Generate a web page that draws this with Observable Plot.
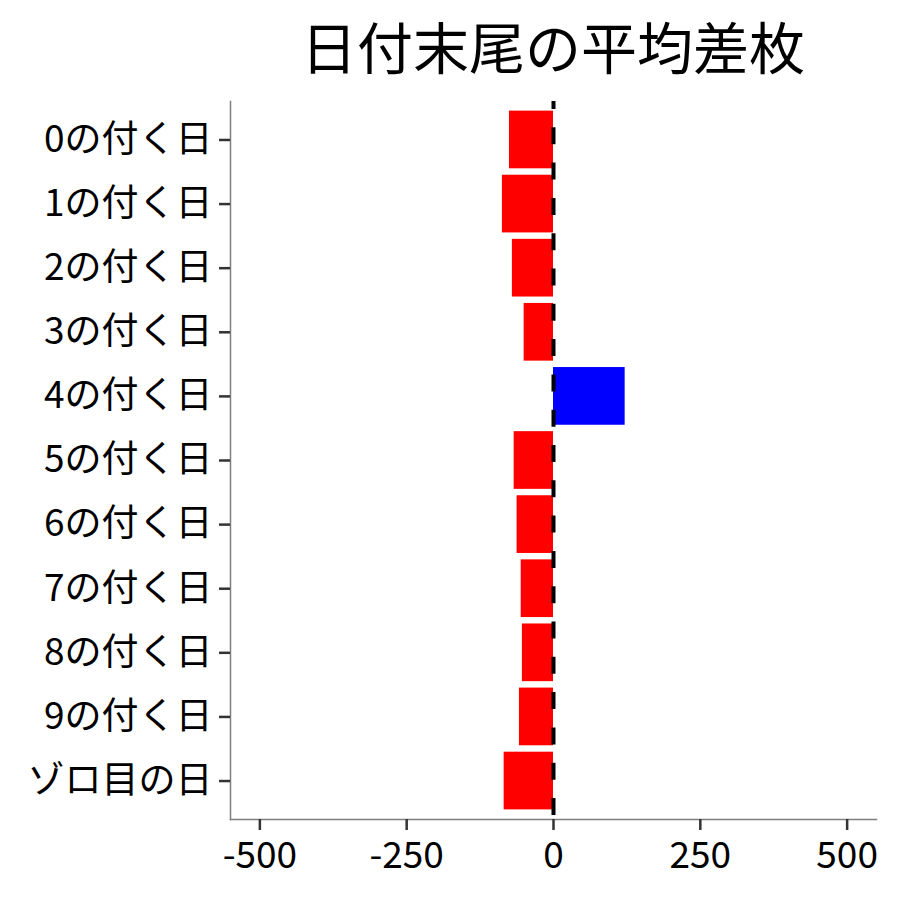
<!DOCTYPE html>
<html>
<head>
<meta charset="utf-8">
<script src="https://cdn.jsdelivr.net/npm/d3@7"></script>
<script src="https://cdn.jsdelivr.net/npm/@observablehq/plot@0.6"></script>
<style>
  html, body { margin: 0; padding: 0; background: #fff; }
  #wrap { width: 900px; height: 900px; }
  #title {
    box-sizing: border-box;
    width: 900px; height: 100px;
    padding: 0 24px 0 230px;
    text-align: center;
    font-family: 'Noto Sans CJK JP', 'Noto Sans', sans-serif;
    font-size: 56px; line-height: 90px; color: #000;
    white-space: nowrap;
  }
  #chart svg { display: block; }
</style>
</head>
<body>
<div id="wrap">
  <div id="title"></div>
  <div id="chart"></div>
</div>
<script>
const title = "日付末尾の平均差枚";
const categories = ["0の付く日","1の付く日","2の付く日","3の付く日","4の付く日","5の付く日","6の付く日","7の付く日","8の付く日","9の付く日","ゾロ目の日"];
const values = [-75, -87, -70, -50, 122, -67, -62, -55, -53, -58, -84];
const xTicks = [-500, -250, 0, 250, 500];
const xTickLabels = ["-500", "-250", "0", "250", "500"];

document.getElementById("title").textContent = title;

const data = categories.map((c, i) => ({cat: c, value: values[i], sign: values[i] >= 0 ? "pos" : "neg"}));

const chart = Plot.plot({
  width: 900,
  height: 800,
  marginLeft: 230,
  marginRight: 24,
  marginTop: 1,
  marginBottom: 81,
  style: {fontFamily: "'Noto Sans CJK JP', 'Noto Sans', sans-serif", fontSize: "36px", color: "#000", background: "#fff", overflow: "visible"},
  x: {domain: [-550, 550], ticks: xTicks, label: null},
  y: {domain: categories, paddingInner: 0.1, paddingOuter: 0.15, round: false, label: null},
  color: {domain: ["neg", "pos"], range: ["#FF0000", "#0000FF"]},
  marks: [
    Plot.barX(data, {y: "cat", x1: 0, x2: "value", fill: "sign"}),
    Plot.ruleX([0], {stroke: "#000", strokeWidth: 4, strokeDasharray: "17,18.3", strokeDashoffset: 9}),
    Plot.frame({anchor: "left", stroke: "#7f7f7f", strokeWidth: 1.5}),
    Plot.frame({anchor: "bottom", stroke: "#7f7f7f", strokeWidth: 1.5}),
    Plot.axisX({ticks: xTicks, tickFormat: (d) => xTickLabels[xTicks.indexOf(d)], tickSize: 11, tickPadding: 11, stroke: "#333", strokeWidth: 2.5, fontSize: 37, fill: "#000", label: null}),
    Plot.axisY({tickSize: 11, tickPadding: 7, stroke: "#333", strokeWidth: 2.5, fontSize: 37, fill: "#000", label: null})
  ]
});
document.getElementById("chart").appendChild(chart);
</script>
</body>
</html>
